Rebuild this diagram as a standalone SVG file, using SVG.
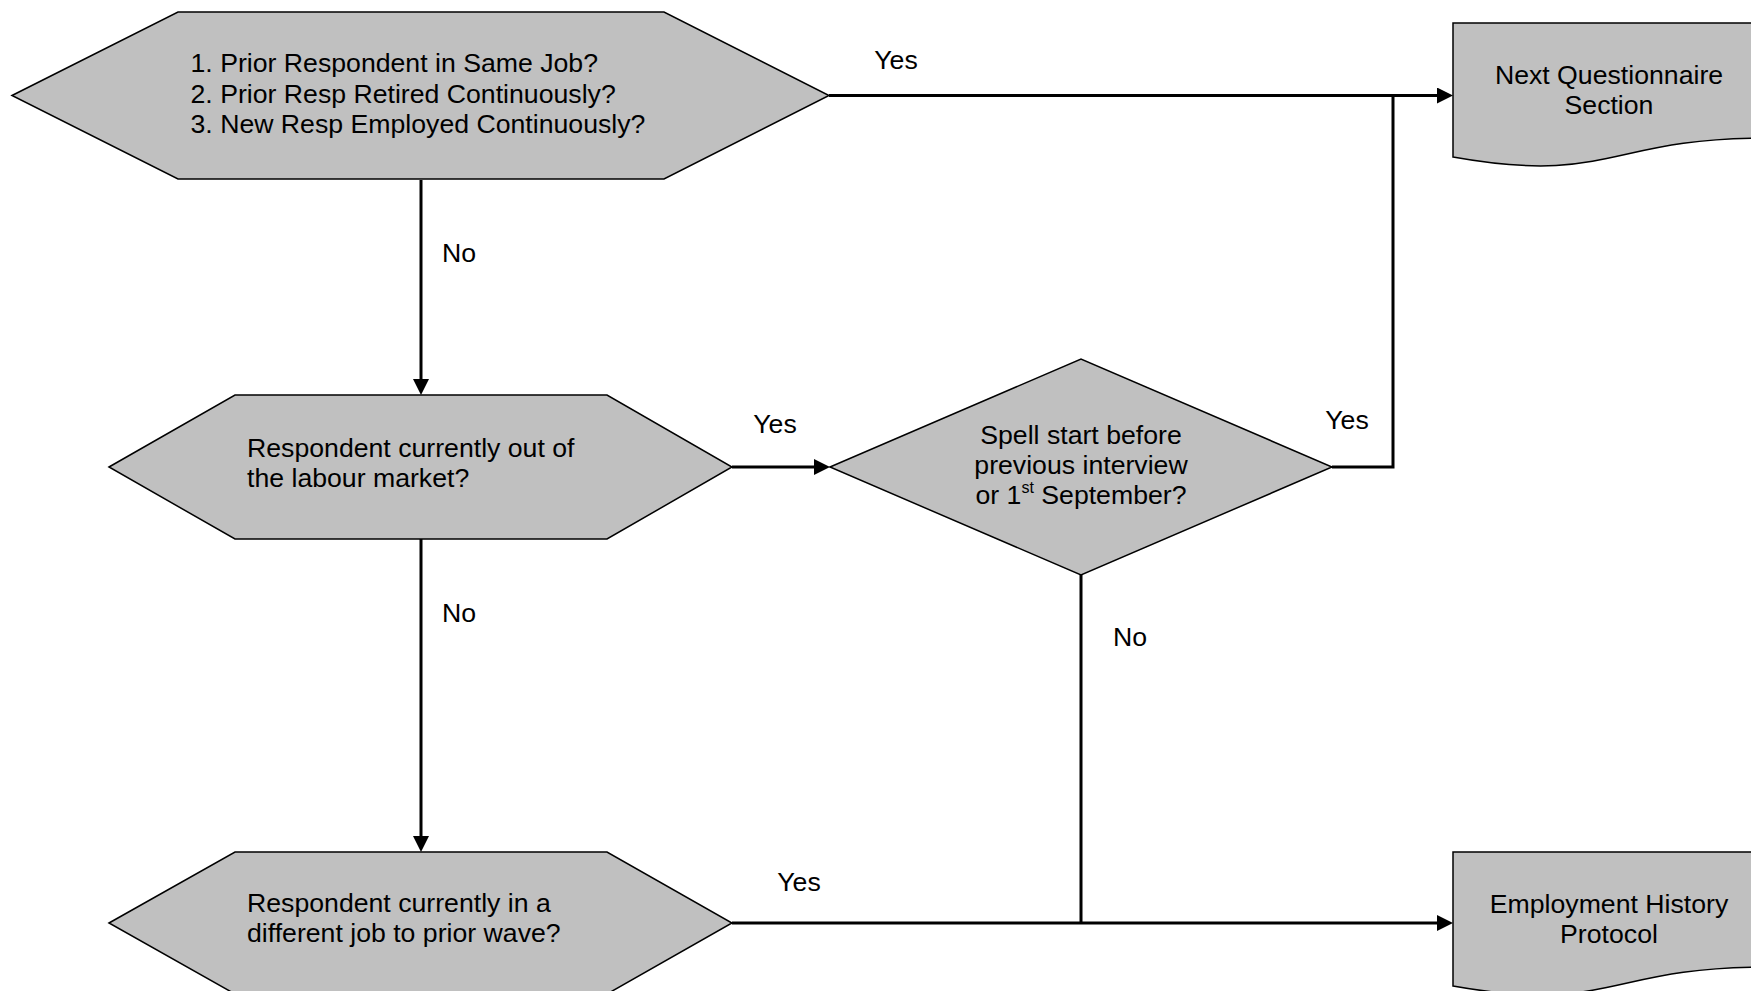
<svg xmlns="http://www.w3.org/2000/svg" width="1751" height="991" viewBox="0 0 1751 991">
<style>
.shape{fill:#C0C0C0;stroke:#000;stroke-width:1.5;stroke-linejoin:miter}
.t{font-family:"Liberation Sans",Arial,sans-serif;font-size:26.67px;fill:#000}
.c{text-anchor:middle}
.conn{fill:none;stroke:#000;stroke-width:3}
.lbl{font-family:"Liberation Sans",Arial,sans-serif;font-size:26.67px;fill:#000}
</style>
<defs>
<marker id="arr" markerUnits="userSpaceOnUse" markerWidth="16" markerHeight="16" refX="4" refY="8" orient="auto">
<path d="M0,0 L16,8 L0,16 z" fill="#000"/>
</marker>
</defs>
<rect width="1751" height="991" fill="#fff"/>
<g id="connectors">
<path class="conn" d="M829,95.5 H1441" marker-end="url(#arr)"/>
<path class="conn" d="M1332,467 H1393 V95.5"/>
<path class="conn" d="M421,180 V383" marker-end="url(#arr)"/>
<path class="conn" d="M732,467 H818" marker-end="url(#arr)"/>
<path class="conn" d="M421,539 V840" marker-end="url(#arr)"/>
<path class="conn" d="M732,923 H1441" marker-end="url(#arr)"/>
<path class="conn" d="M1081,575 V923"/>
<text class="lbl c" x="896" y="69">Yes</text>
<text class="lbl c" x="1347" y="429">Yes</text>
<text class="lbl" x="442" y="262">No</text>
<text class="lbl c" x="775" y="433">Yes</text>
<text class="lbl" x="442" y="622">No</text>
<text class="lbl c" x="799" y="891">Yes</text>
<text class="lbl" x="1113" y="646">No</text>
</g>
<g id="q1">
<polygon class="shape" points="12,95.5 178,12 664,12 829,95.5 664,179 178,179"/>
<text class="t" x="190.5" y="71.7">1. Prior Respondent in Same Job?</text>
<text class="t" x="190.5" y="102.5">2. Prior Resp Retired Continuously?</text>
<text class="t" x="190.5" y="133.3">3. New Resp Employed Continuously?</text>
</g>
<g id="q2">
<polygon class="shape" points="109,467 235,395 607,395 732,467 607,539 235,539"/>
<text class="t" x="247" y="456.5">Respondent currently out of</text>
<text class="t" x="247" y="487">the labour market?</text>
</g>
<g id="q3">
<polygon class="shape" points="109,923 235,852 607,852 732,923 607,994 235,994"/>
<text class="t" x="247" y="912">Respondent currently in a</text>
<text class="t" x="247" y="942">different job to prior wave?</text>
</g>
<g id="q4">
<polygon class="shape" points="830,467 1081,359 1332,467 1081,575"/>
<text class="t c" x="1081" y="443.5">Spell start before</text>
<text class="t c" x="1081" y="474">previous interview</text>
<text class="t c" x="1081" y="504">or 1<tspan font-size="16" dy="-11">st</tspan><tspan dy="11"> September?</tspan></text>
</g>
<g id="next">
<path class="shape" d="M1453,23 H1765 V138.1 C1609,138.1 1609,185 1453,157 Z"/>
<text class="t c" x="1609" y="84">Next Questionnaire</text>
<text class="t c" x="1609" y="114">Section</text>
</g>
<g id="ehp">
<path class="shape" d="M1453,852 H1765 V967.1 C1609,967.1 1609,1014 1453,986 Z"/>
<text class="t c" x="1609" y="912.5">Employment History</text>
<text class="t c" x="1609" y="942.5">Protocol</text>
</g>
</svg>
